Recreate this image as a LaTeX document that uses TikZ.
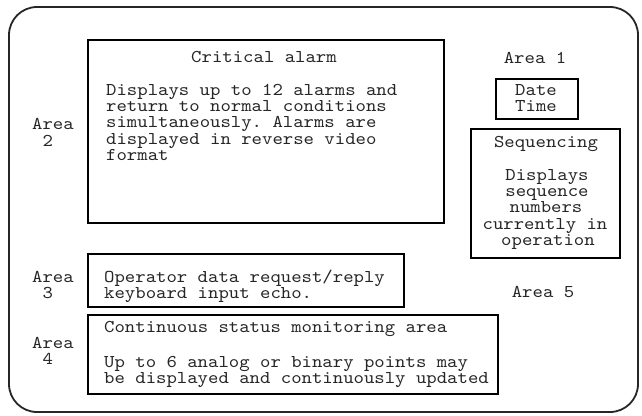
\documentclass[tikz,border=0pt]{standalone}
\usepackage{fontspec}
\setmonofont{lmmono10-regular}[Extension=.otf, FakeStretch=1.1]
\begin{document}
\begin{tikzpicture}[x=1pt,y=-1pt,
  box/.style={draw, line width=1.6pt, inner sep=0pt, anchor=north west},
  txt/.style={font=\ttfamily\fontsize{18}{16.4}\selectfont, inner sep=0pt, anchor=base west},
  ctxt/.style={font=\ttfamily\fontsize{18}{16.4}\selectfont, inner sep=0pt, anchor=base},
  every node/.append style={text=black!85}]
\useasboundingbox (0,0) rectangle (642,415);
\draw[line width=1.8pt, rounded corners=28pt, black!85] (9,7) rectangle (638,412);
% boxes
\node[box, minimum width=356pt, minimum height=183pt] (crit) at (87,39) {};
\node[box, minimum width=82pt, minimum height=40pt] (dt) at (495,78) {};
\node[box, minimum width=149pt, minimum height=129pt] (seq) at (470,128) {};
\node[box, minimum width=316pt, minimum height=53pt] (op) at (87,253) {};
\node[box, minimum width=410pt, minimum height=79pt] (cont) at (87,314) {};
% critical alarm
\node[ctxt] (ct) at (264,62) {Critical alarm};
\node[txt] (c1) at (106,95) {Displays up to 12 alarms and};
\node[txt] (c2) at (106,111.4) {return to normal conditions};
\node[txt] (c3) at (106,127.8) {simultaneously. Alarms are};
\node[txt] (c4) at (106,144.2) {displayed in reverse video};
\node[txt] (c5) at (106,160.6) {format};
% area labels
\node[txt] (a2a) at (32,129) {Area};
\node[txt] (a2b) at (32,146) {\ 2};
\node[txt] (a3a) at (32,282) {Area};
\node[txt] (a3b) at (32,298.4) {\ 3};
\node[txt] (a4a) at (32,348) {Area};
\node[txt] (a4b) at (32,364.4) {\ 4};
\node[ctxt] (a1) at (535,63) {Area 1};
\node[ctxt] (a5) at (543,297) {Area 5};
% date time
\node[ctxt] (d1) at (536,95) {Date};
\node[ctxt] (d2) at (536,111.4) {Time};
% sequencing
\node[ctxt] (s0) at (546,147) {Sequencing};
\node[ctxt] (s1) at (547,180) {Displays};
\node[ctxt] (s2) at (547,196.4) {sequence};
\node[ctxt] (s3) at (546,212.8) {numbers};
\node[ctxt] (s4) at (545,229.2) {currently in};
\node[ctxt] (s5) at (548,245.6) {operation};
% operator
\node[txt] (o1) at (104,282) {Operator data request/reply};
\node[txt] (o2) at (104,298.4) {keyboard input echo.};
% continuous
\node[txt] (k1) at (104,332) {Continuous status monitoring area};
\node[txt] (k2) at (104,367) {Up to 6 analog or binary points may};
\node[txt] (k3) at (104,383.4) {be displayed and continuously updated};
\end{tikzpicture}
\end{document}
